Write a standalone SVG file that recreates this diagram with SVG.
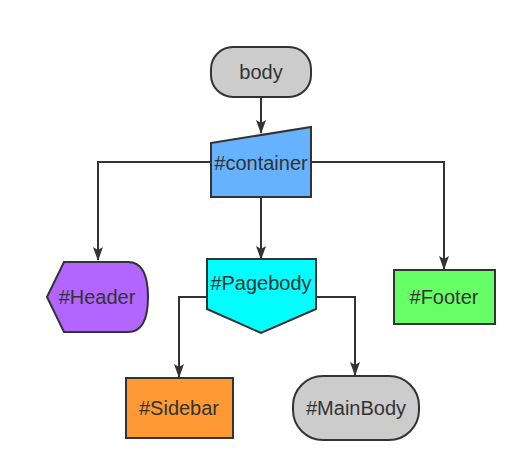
<svg xmlns="http://www.w3.org/2000/svg" width="527" height="472" viewBox="0 0 527 472">
<defs>
<style>
.n{stroke:#333333;stroke-width:2}
.t{font-family:"Liberation Sans",Arial,sans-serif;font-size:20px;fill:#333333;text-anchor:middle;dominant-baseline:central}
.c{fill:none;stroke:#333333;stroke-width:2}
</style>
<marker id="ah" viewBox="0 0 14 10" refX="13" refY="5" markerWidth="14" markerHeight="10" markerUnits="userSpaceOnUse" orient="auto">
<path d="M0,0 L14,5 L0,10 L3,5 Z" fill="#333333"/>
</marker>
</defs>
<rect width="527" height="472" fill="#ffffff"/>
<g id="connectors">
<path class="c" d="M261,97 V133" marker-end="url(#ah)"/>
<path class="c" d="M211,162 H98 V260" marker-end="url(#ah)"/>
<path class="c" d="M311,162 H444 V269" marker-end="url(#ah)"/>
<path class="c" d="M261,197 V259" marker-end="url(#ah)"/>
<path class="c" d="M207,297 H179 V377" marker-end="url(#ah)"/>
<path class="c" d="M316,297 H355 V375" marker-end="url(#ah)"/>
</g>
<g id="body">
<rect class="n" x="211" y="47" width="100" height="50" rx="22" fill="#cccccc"/>
<text class="t" x="261" y="72">body</text>
</g>
<g id="container">
<path class="n" d="M211,143 L311,127 L311,197 L211,197 Z" fill="#66b2ff"/>
<text class="t" x="261" y="163">#container</text>
</g>
<g id="header">
<path class="n" d="M47,297 L64,262 L128,262 Q148,262 148,297 Q148,332 128,332 L64,332 Z" fill="#b266ff"/>
<text class="t" x="97" y="297">#Header</text>
</g>
<g id="pagebody">
<path class="n" d="M207,259 L316,259 L316,309 L261,333 L207,309 Z" fill="#00ffff"/>
<text class="t" x="261" y="283">#Pagebody</text>
</g>
<g id="footer">
<rect class="n" x="394" y="270" width="101" height="54" fill="#66ff66"/>
<text class="t" x="444" y="297">#Footer</text>
</g>
<g id="sidebar">
<rect class="n" x="126" y="378" width="107" height="60" fill="#ff9933"/>
<text class="t" x="179" y="408">#Sidebar</text>
</g>
<g id="mainbody">
<rect class="n" x="293" y="376" width="126" height="64" rx="30" fill="#cccccc"/>
<text class="t" x="356" y="408">#MainBody</text>
</g>
</svg>
